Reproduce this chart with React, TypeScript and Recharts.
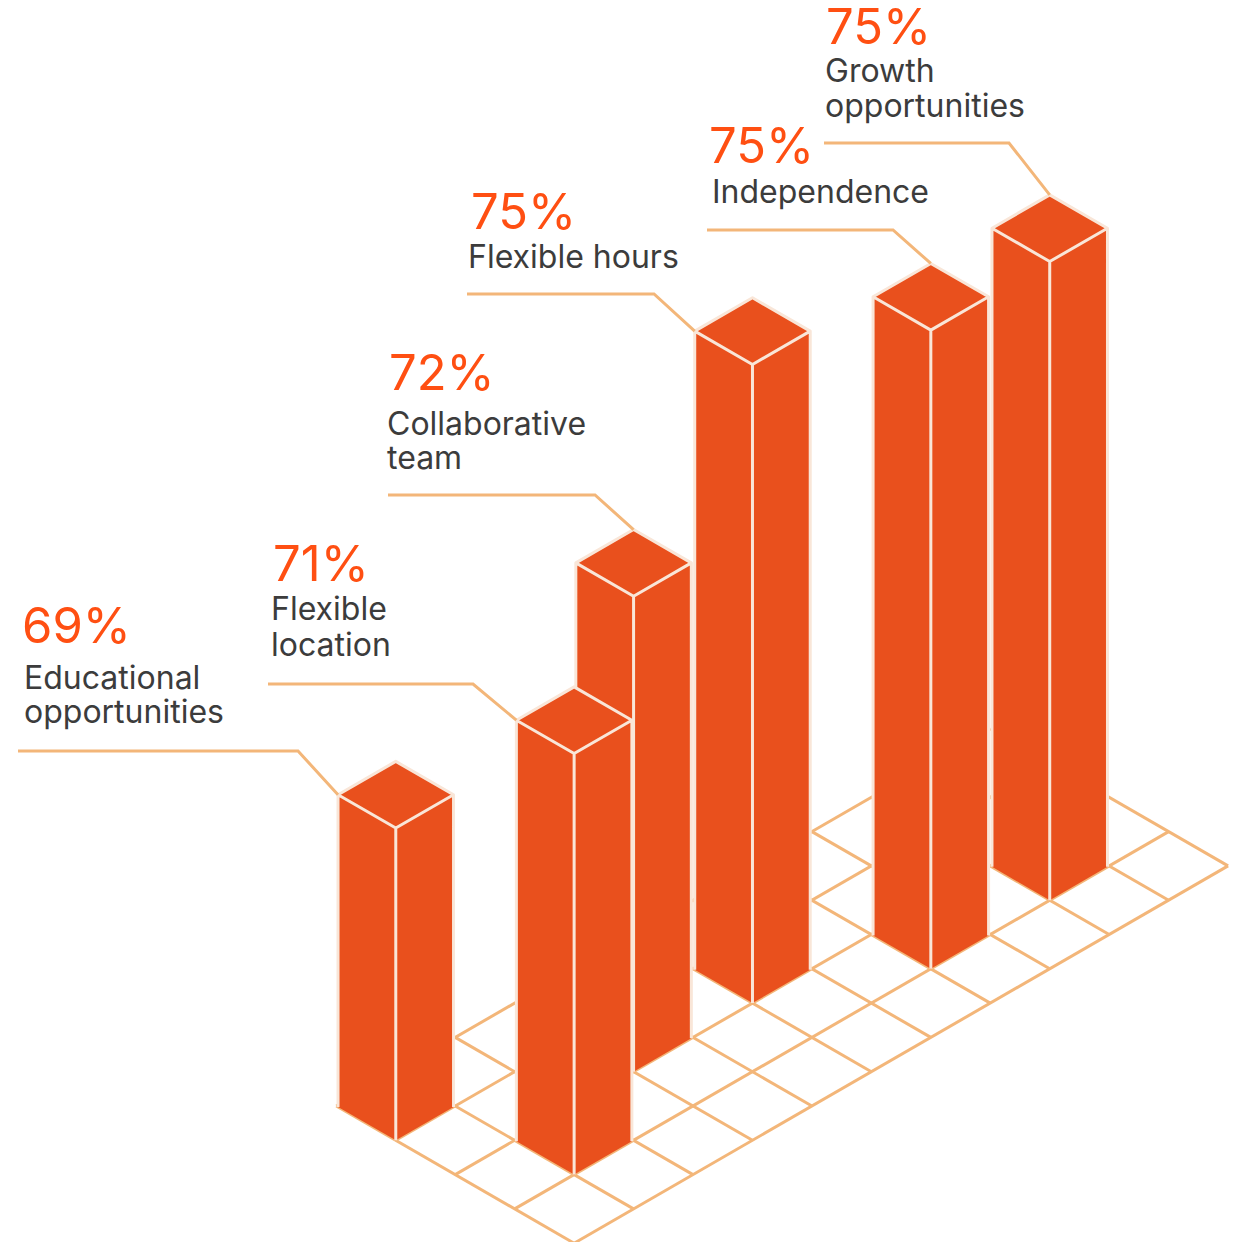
import { Bar, ComposedChart, Scatter, XAxis, YAxis } from 'recharts';

// Survey results, listed front of the chart first
const CATEGORY_LINES = [
  ['Educational', 'opportunities'],
  ['Flexible', 'location'],
  ['Collaborative', 'team'],
  ['Flexible hours'],
  ['Independence'],
  ['Growth', 'opportunities']
];
const VALUES = [69, 71, 72, 75, 75, 75];

// Which floor cell each column stands on
const CELL_COLUMNS = [0, 1, 3, 5, 7, 9];
const CELL_ROWS = [0, 2, 1, 1, 2, 2];

// Leader start, elbow and height, then text positions for each callout
const CALLOUTS = [
  { lineX: 18, lineY: 751, elbowX: 298, corner: 'left', pctX: 22, pctY: 643, textX: 24, textY: [689, 723] },
  { lineX: 268, lineY: 684, elbowX: 473, corner: 'left', pctX: 273, pctY: 581, textX: 271, textY: [620, 656] },
  { lineX: 388, lineY: 495, elbowX: 595, corner: 'top', pctX: 389, pctY: 390, textX: 387, textY: [435, 469] },
  { lineX: 467, lineY: 294, elbowX: 654, corner: 'left', pctX: 471, pctY: 229, textX: 468, textY: [268] },
  { lineX: 707, lineY: 230, elbowX: 893, corner: 'top', pctX: 709, pctY: 163, textX: 712, textY: [203] },
  { lineX: 824, lineY: 143, elbowX: 1009, corner: 'top', pctX: 826, pctY: 44, textX: 825, textY: [82, 117] }
];

const WIDTH = 1240;
const HEIGHT = 1242;
const FONT = 'Inter, sans-serif';
const BAR_FILL = '#E9501D';
const BAR_EDGE = '#F9E6D8';
const FLOOR_LINE = '#F3B679';
const PCT_COLOR = '#FF4F12';
const TEXT_COLOR = '#3C3C3C';

// Floor lattice: one step is half a cell across, and RISE value points up the page
const STEP_PX = 59.45;
const ORIGIN_X = 336.3;
const ORIGIN_Y = 1106;
const PX_PER_POINT = 54.4;
const AXIS_FLOOR = 63.26;
const RISE = 34.3 / PX_PER_POINT;
const BAR_WIDTH = 115.5;
const HALF_BAR = BAR_WIDTH / 2;
const CAP_DROP = HALF_BAR * Math.tan(Math.PI / 6);
const GRID_COLUMNS = 11;
const GRID_ROWS = 4;

const rows = VALUES.map((value, i) => {
  const col = CELL_COLUMNS[i];
  const row = CELL_ROWS[i];
  const ground = (col - row - 1) * RISE;
  return {
    value,
    slot: col + row + 1,
    range: [ground, ground + value - AXIS_FLOOR],
    top: ground + value - AXIS_FLOOR,
    order: i
  };
}).reverse(); // nearer columns paint last

const floorPoint = (col: number, row: number) => ({
  slot: col + row,
  ground: (col - row) * RISE
});

const floorLines: { slot: number; ground: number }[][] = [];
for (let col = 0; col <= GRID_COLUMNS; col++) {
  floorLines.push([floorPoint(col, 0), floorPoint(col, GRID_ROWS)]);
}
for (let row = 0; row <= GRID_ROWS; row++) {
  floorLines.push([floorPoint(0, row), floorPoint(GRID_COLUMNS, row)]);
}

// The band on a numeric axis is narrower than a cell, so only its centre is used
const Column = ({ x, y, width, height }: any) => {
  const cx = x + width / 2;
  const left = cx - HALF_BAR;
  const right = cx + HALF_BAR;
  const bottom = y + height;
  const d = CAP_DROP;
  return (
    <g>
      <polygon
        fill={BAR_FILL}
        points={`${left},${y - d} ${cx},${y - 2 * d} ${right},${y - d} ${right},${bottom - d} ${cx},${bottom} ${left},${bottom - d}`}
      />
      <path
        fill="none"
        stroke={BAR_EDGE}
        strokeWidth={3}
        strokeLinejoin="round"
        d={`M${left},${bottom - d}V${y - d}L${cx},${y - 2 * d}L${right},${y - d}V${bottom - d}M${left},${y - d}L${cx},${y}L${right},${y - d}M${cx},${y}V${bottom}`}
      />
    </g>
  );
};

const Callout = ({ cx, cy, payload }: any) => {
  const spec = CALLOUTS[payload.order];
  const endX = spec.corner === 'top' ? cx : cx - HALF_BAR;
  const endY = spec.corner === 'top' ? cy - 2 * CAP_DROP : cy - CAP_DROP;
  return (
    <g fontFamily={FONT}>
      <polyline
        fill="none"
        stroke={FLOOR_LINE}
        strokeWidth={3}
        points={`${spec.lineX},${spec.lineY} ${spec.elbowX},${spec.lineY} ${endX},${endY}`}
      />
      <text x={spec.pctX} y={spec.pctY} fill={PCT_COLOR} fontSize={49}>
        {`${payload.value}%`}
      </text>
      {CATEGORY_LINES[payload.order].map((line, i) => (
        <text key={line} x={spec.textX} y={spec.textY[i]} fill={TEXT_COLOR} fontSize={32}>
          {line}
        </text>
      ))}
    </g>
  );
};

const NoDot = () => null;

export default function App() {
  return (
    <div style={{ position: 'absolute', left: 0, top: 0, width: WIDTH, height: HEIGHT, background: '#fff' }}>
      <ComposedChart
        width={WIDTH}
        height={HEIGHT}
        data={rows}
        margin={{ top: 0, right: 0, bottom: 0, left: 0 }}
      >
        <XAxis
          hide
          type="number"
          dataKey="slot"
          allowDataOverflow
          domain={[-ORIGIN_X / STEP_PX, (WIDTH - ORIGIN_X) / STEP_PX]}
        />
        <YAxis
          hide
          type="number"
          allowDataOverflow
          domain={[(ORIGIN_Y - HEIGHT) / PX_PER_POINT, ORIGIN_Y / PX_PER_POINT]}
        />
        {floorLines.map((points, i) => (
          <Scatter
            key={i}
            data={points}
            dataKey="ground"
            line={{ stroke: FLOOR_LINE, strokeWidth: 3 }}
            shape={NoDot}
            isAnimationActive={false}
            zIndex={100}
          />
        ))}
        <Bar
          dataKey="range"
          barSize={BAR_WIDTH}
          shape={Column}
          isAnimationActive={false}
          zIndex={200}
        />
        <Scatter
          data={rows}
          dataKey="top"
          shape={Callout}
          isAnimationActive={false}
          zIndex={300}
        />
      </ComposedChart>
    </div>
  );
}
